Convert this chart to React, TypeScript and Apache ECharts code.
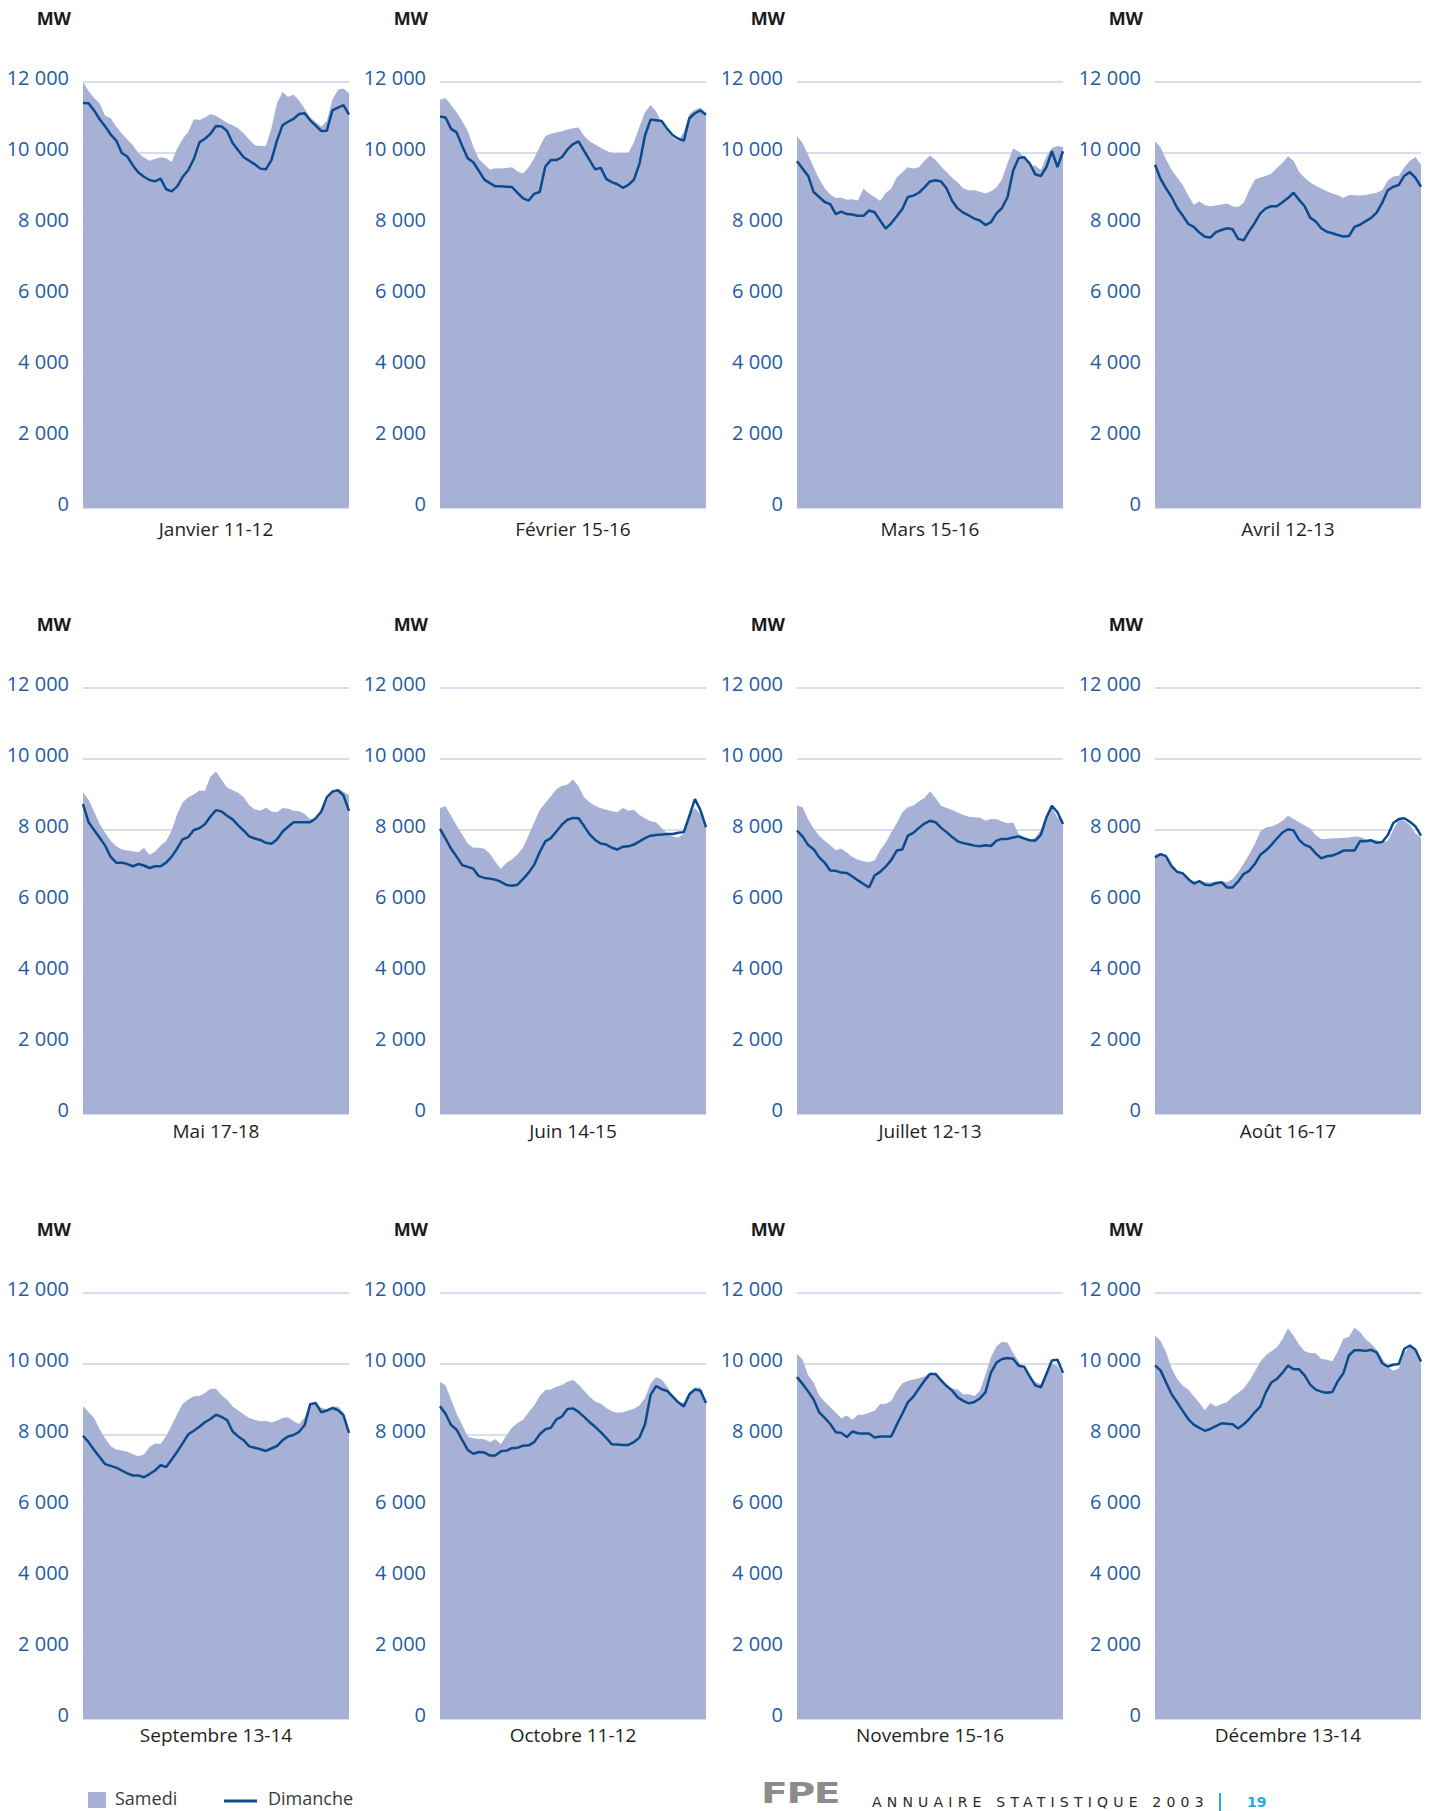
import React, { useEffect, useRef } from "react";
import * as echarts from "echarts";

const HOURS: string[] = Array.from({ length: 49 }, (_, i) => `${Math.floor(i / 2)}:${i % 2 ? "30" : "00"}`);

const TITLES = [
  "Janvier 11-12", "Février 15-16", "Mars 15-16", "Avril 12-13",
  "Mai 17-18", "Juin 14-15", "Juillet 12-13", "Août 16-17",
  "Septembre 13-14", "Octobre 11-12", "Novembre 15-16", "Décembre 13-14",
];

const Y_TICKS = [0, 2000, 4000, 6000, 8000, 10000, 12000];

const JAN_SAT = [12000,11750,11550,11400,11050,10980,10750,10550,10380,10220,10000,9870,9780,9830,9880,9850,9750,10130,10400,10600,10950,10930,11000,11100,11050,10950,10850,10780,10700,10550,10380,10220,10200,10200,10700,11400,11720,11580,11650,11480,11250,11000,10870,10750,10900,11500,11780,11820,11680];
const JAN_SUN = [11410,11400,11200,10950,10750,10520,10350,10000,9900,9650,9450,9330,9240,9200,9280,8980,8920,9060,9330,9520,9830,10300,10400,10540,10760,10750,10620,10280,10080,9880,9780,9680,9560,9540,9800,10350,10780,10880,10960,11100,11120,10920,10770,10620,10630,11200,11280,11350,11080];
const FEB_SAT = [11500,11550,11350,11150,10900,10620,10180,9830,9680,9530,9570,9560,9580,9600,9480,9420,9600,9850,10180,10470,10540,10580,10610,10660,10700,10720,10480,10330,10240,10150,10060,10000,9990,10000,10000,10300,10750,11150,11350,11170,10850,10620,10440,10340,10600,11100,11220,11280,11130];
const FEB_SUN = [11030,11000,10680,10580,10200,9850,9740,9500,9250,9150,9060,9060,9050,9040,8880,8720,8660,8850,8900,9620,9800,9800,9880,10100,10250,10330,10060,9800,9540,9580,9270,9180,9120,9020,9100,9250,9700,10500,10940,10920,10900,10680,10500,10400,10350,10980,11120,11200,11080];
const MAR_SAT = [10470,10280,9950,9600,9270,9010,8830,8730,8740,8680,8700,8660,9000,8860,8760,8650,8870,9000,9320,9460,9600,9560,9600,9780,9930,9800,9620,9460,9300,9170,9000,8950,8950,8910,8860,8920,9030,9260,9720,10130,10040,9880,9640,9650,9520,9900,10140,10200,10170];
const MAR_SUN = [9770,9560,9360,8900,8760,8620,8560,8280,8350,8280,8270,8230,8230,8380,8330,8100,7870,8020,8220,8420,8760,8800,8880,9030,9200,9230,9200,9000,8650,8440,8320,8240,8150,8100,7970,8050,8300,8450,8760,9500,9860,9880,9700,9400,9350,9600,10050,9600,10050];
const APR_SAT = [10330,10160,9820,9520,9310,9100,8800,8540,8640,8530,8500,8520,8550,8580,8500,8480,8600,8950,9250,9310,9350,9420,9580,9720,9910,9780,9470,9300,9170,9080,9000,8920,8860,8810,8730,8820,8810,8800,8820,8850,8880,8960,9220,9340,9360,9600,9780,9890,9670];
const APR_SUN = [9670,9270,9000,8760,8450,8240,8000,7920,7760,7640,7620,7770,7830,7880,7850,7580,7540,7800,8030,8300,8440,8500,8500,8610,8730,8880,8680,8500,8180,8070,7880,7780,7740,7690,7650,7660,7920,7980,8080,8170,8320,8600,8950,9050,9100,9360,9460,9300,9050];
const MAY_SAT = [9060,8850,8520,8170,7920,7700,7540,7450,7420,7400,7370,7500,7300,7390,7560,7690,7980,8450,8780,8920,9000,9110,9100,9510,9650,9420,9200,9120,9050,8920,8700,8580,8540,8630,8520,8500,8620,8600,8540,8530,8450,8310,8310,8490,8830,9060,9160,9080,8980];
const MAY_SUN = [8730,8220,8000,7780,7560,7240,7080,7080,7040,6980,7040,7000,6930,6980,6980,7080,7250,7480,7740,7800,8000,8050,8160,8380,8560,8520,8400,8300,8130,7980,7820,7760,7720,7640,7610,7730,7950,8090,8220,8220,8220,8220,8330,8520,8920,9080,9120,8980,8540];
const JUN_SAT = [8620,8670,8400,8130,7870,7620,7500,7500,7470,7330,7100,6910,7080,7170,7320,7510,7860,8220,8560,8760,8950,9150,9250,9280,9420,9230,8920,8780,8680,8610,8570,8530,8500,8620,8540,8570,8420,8330,8250,8220,8050,7900,7820,7790,7900,8450,8620,8460,8080];
const JUN_SUN = [8030,7760,7470,7250,7010,6960,6910,6700,6650,6630,6600,6540,6450,6430,6460,6620,6800,7020,7380,7680,7770,7960,8150,8290,8340,8330,8110,7880,7720,7620,7590,7500,7450,7530,7540,7590,7680,7770,7840,7860,7870,7890,7890,7920,7940,8400,8870,8560,8080];
const JUL_SAT = [8690,8640,8300,8040,7840,7700,7570,7430,7480,7360,7240,7160,7120,7090,7140,7440,7640,7930,8190,8500,8640,8690,8810,8900,9090,8900,8680,8620,8560,8490,8420,8370,8360,8350,8260,8310,8300,8240,8190,8210,7880,7780,7710,7780,8000,8420,8630,8350,8260];
const JUL_SUN = [7980,7820,7580,7460,7230,7080,6860,6850,6800,6790,6690,6580,6480,6380,6720,6820,6970,7150,7420,7450,7840,7920,8060,8180,8260,8220,8060,7940,7800,7680,7630,7600,7560,7540,7570,7550,7700,7750,7750,7790,7820,7760,7710,7700,7860,8350,8680,8500,8170];
const AUG_SAT = [7320,7300,7200,7000,6840,6750,6600,6570,6560,6530,6530,6550,6550,6530,6620,6810,7050,7320,7600,7960,8070,8100,8160,8260,8400,8310,8220,8130,8040,7860,7750,7750,7770,7770,7780,7790,7820,7800,7750,7750,7710,7670,7700,8000,8310,8260,8140,7900,7790];
const AUG_SUN = [7230,7320,7260,6980,6820,6780,6620,6490,6560,6460,6440,6500,6530,6380,6380,6550,6760,6850,7040,7300,7420,7580,7760,7930,8020,7990,7720,7580,7520,7340,7200,7260,7280,7340,7420,7420,7420,7690,7680,7710,7640,7660,7850,8200,8310,8330,8230,8100,7840];
const SEP_SAT = [8810,8650,8480,8160,7900,7680,7590,7560,7530,7460,7400,7450,7660,7760,7750,7970,8270,8590,8880,9000,9090,9100,9180,9300,9300,9120,8990,8800,8690,8580,8480,8430,8390,8400,8350,8400,8480,8500,8390,8310,8500,8870,8890,8770,8720,8800,8800,8640,8060];
const SEP_SUN = [7980,7800,7580,7380,7180,7130,7080,7000,6920,6860,6860,6810,6900,7000,7150,7100,7310,7530,7770,8020,8120,8230,8360,8450,8570,8510,8420,8100,7960,7850,7680,7640,7600,7550,7620,7690,7850,7960,8000,8090,8280,8870,8900,8640,8690,8760,8700,8560,8060];
const OCT_SAT = [9490,9400,9000,8600,8290,7960,7910,7890,7880,7800,7880,7740,7990,8210,8340,8430,8640,8840,9100,9270,9280,9360,9410,9500,9550,9420,9250,9080,8940,8890,8760,8670,8630,8640,8690,8740,8830,9050,9450,9630,9560,9360,9100,8900,8920,9200,9330,9340,8950];
const OCT_SUN = [8810,8600,8280,8150,7860,7580,7470,7520,7510,7420,7420,7540,7560,7630,7640,7700,7710,7800,8020,8160,8200,8440,8520,8730,8750,8650,8510,8360,8230,8080,7920,7740,7730,7720,7720,7800,7930,8300,9130,9380,9290,9240,9080,8920,8800,9150,9280,9250,8900];
const NOV_SAT = [10280,10130,9680,9480,9110,8940,8790,8630,8470,8550,8430,8570,8570,8630,8680,8870,8870,8960,9250,9450,9520,9560,9600,9650,9760,9740,9580,9420,9310,9280,9150,9150,9100,9250,9700,10200,10500,10630,10600,10310,10070,9850,9620,9500,9430,9700,10000,9950,9690];
const NOV_SUN = [9630,9440,9230,9000,8640,8480,8310,8080,8060,7940,8100,8050,8040,8040,7930,7960,7960,7960,8290,8600,8920,9080,9310,9530,9720,9720,9540,9380,9250,9060,8960,8890,8930,9030,9200,9760,10040,10140,10170,10150,9950,9920,9650,9400,9340,9720,10100,10120,9750];
const DEC_SAT = [10800,10650,10330,9880,9580,9390,9280,9090,8900,8700,8900,8800,8870,8920,9080,9180,9310,9520,9780,10060,10250,10360,10470,10700,11010,10800,10540,10360,10310,10300,10140,10120,10080,10350,10710,10770,11020,10900,10700,10570,10400,10160,9920,9810,9880,10300,10520,10360,10070];
const DEC_SUN = [9960,9820,9480,9150,8920,8680,8450,8290,8200,8120,8170,8250,8330,8320,8300,8180,8300,8450,8640,8800,9200,9480,9580,9750,9960,9850,9850,9680,9420,9280,9220,9190,9210,9520,9740,10240,10390,10390,10370,10400,10330,10020,9930,9980,10000,10430,10520,10400,10070];

const SAMEDI = [JAN_SAT, FEB_SAT, MAR_SAT, APR_SAT, MAY_SAT, JUN_SAT, JUL_SAT, AUG_SAT, SEP_SAT, OCT_SAT, NOV_SAT, DEC_SAT];
const DIMANCHE = [JAN_SUN, FEB_SUN, MAR_SUN, APR_SUN, MAY_SUN, JUN_SUN, JUL_SUN, AUG_SUN, SEP_SUN, OCT_SUN, NOV_SUN, DEC_SUN];

const COL_LEFT = [83, 440, 797, 1155];
const ROW_TOP = [82, 688, 1293];
const ROW_NAME_GAP = [11, 7, 6];
const PLOT_W = 266;
const PLOT_H = 426;

const AREA_COLOR = "#a7b0d5";
const LINE_COLOR = "#0c4a8e";
const TICK_COLOR = "#1f5ca3";
const GRID_COLOR = "#d8dcef";
const FONT = "'Open Sans', 'Noto Sans', sans-serif";

function fmt(v: number): string {
  if (v === 0) return "0";
  const s = String(v);
  return s.slice(0, s.length - 3) + " " + s.slice(s.length - 3);
}

export default function App() {
  const ref = useRef<HTMLDivElement>(null);

  useEffect(() => {
    if (!ref.current) return;
    const chart = echarts.init(ref.current, undefined, { renderer: "svg" });
    const grids: any[] = [];
    const xAxes: any[] = [];
    const yAxes: any[] = [];
    const series: any[] = [];
    for (let i = 0; i < 12; i++) {
      const col = i % 4;
      const row = Math.floor(i / 4);
      grids.push({ left: COL_LEFT[col], top: ROW_TOP[row], width: PLOT_W, height: PLOT_H, containLabel: false });
      xAxes.push({
        type: "category",
        gridIndex: i,
        data: HOURS,
        boundaryGap: false,
        axisLine: { show: false },
        axisTick: { show: false },
        axisLabel: { show: false },
        splitLine: { show: false },
        name: TITLES[i],
        nameLocation: "middle",
        nameGap: ROW_NAME_GAP[row],
        nameTextStyle: { fontFamily: FONT, fontSize: 19, color: "#231f20" },
      });
      yAxes.push({
        type: "value",
        gridIndex: i,
        min: Y_TICKS[0],
        max: Y_TICKS[Y_TICKS.length - 1],
        interval: 2000,
        axisLine: { show: false },
        axisTick: { show: false },
        axisLabel: {
          formatter: (v: number) => fmt(v),
          color: TICK_COLOR,
          fontFamily: FONT,
          fontSize: 20,
          margin: 14,
          verticalAlign: "bottom",
          lineHeight: 10,
        },
        splitLine: { show: true, lineStyle: { color: GRID_COLOR, width: 2 } },
        name: "MW",
        nameLocation: "end",
        nameGap: 64,
        nameTextStyle: {
          fontFamily: FONT,
          fontWeight: "bold",
          fontSize: 18,
          color: "#1a1a1a",
          align: "right",
          verticalAlign: "middle",
          padding: [0, 12, 0, 0],
        },
      });
      series.push({
        type: "line",
        name: "Samedi",
        xAxisIndex: i,
        yAxisIndex: i,
        data: SAMEDI[i],
        symbol: "none",
        silent: true,
        lineStyle: { width: 0, color: AREA_COLOR },
        itemStyle: { color: AREA_COLOR },
        areaStyle: { color: AREA_COLOR, opacity: 1 },
        z: 2,
      });
      series.push({
        type: "line",
        name: "Dimanche",
        xAxisIndex: i,
        yAxisIndex: i,
        data: DIMANCHE[i],
        symbol: "none",
        silent: true,
        lineStyle: { width: 2.5, color: LINE_COLOR },
        itemStyle: { color: LINE_COLOR },
        z: 3,
      });
    }
    chart.setOption({
      animation: false,
      backgroundColor: "#ffffff",
      grid: grids,
      xAxis: xAxes,
      yAxis: yAxes,
      series,
      graphic: [
        { type: "rect", shape: { x: 88, y: 1792, width: 18, height: 16 }, style: { fill: AREA_COLOR } },
        { type: "text", x: 115, y: 1798, style: { text: "Samedi", fill: "#3a3a3a", font: `18px ${FONT}`, verticalAlign: "middle" } },
        { type: "line", shape: { x1: 224, y1: 1801, x2: 257, y2: 1801 }, style: { stroke: LINE_COLOR, lineWidth: 3 } },
        { type: "text", x: 268, y: 1798, style: { text: "Dimanche", fill: "#3a3a3a", font: `18px ${FONT}`, verticalAlign: "middle" } },
      ],
    });
    return () => chart.dispose();
  }, []);

  return (
    <div style={{ position: "absolute", left: 0, top: 0, width: 1430, height: 1811, overflow: "hidden", background: "#fff" }}>
      <div ref={ref} style={{ position: "absolute", left: 0, top: 0, width: 1430, height: 1811 }} />
      <div
        style={{
          position: "absolute", left: 761, top: 1778, fontFamily: "'DejaVu Sans', sans-serif", fontWeight: 900,
          fontSize: 28, lineHeight: "32px", color: "#8c8c8c", transform: "scaleX(1.4)", transformOrigin: "left top",
          letterSpacing: -1,
        }}
      >
        FPE
      </div>
      <div
        style={{
          position: "absolute", left: 872, top: 1795, fontFamily: "'DejaVu Sans', sans-serif", fontSize: 14,
          lineHeight: "15px", color: "#2a2a2a", letterSpacing: 5.2, whiteSpace: "nowrap",
        }}
      >
        ANNUAIRE STATISTIQUE 2003
      </div>
      <div style={{ position: "absolute", left: 1219, top: 1793, width: 2, height: 18, background: "#2aa8e0" }} />
      <div
        style={{
          position: "absolute", left: 1247, top: 1795, fontFamily: "'DejaVu Sans', sans-serif", fontSize: 14,
          lineHeight: "15px", color: "#2aa8e0", fontWeight: "bold",
        }}
      >
        19
      </div>
    </div>
  );
}
